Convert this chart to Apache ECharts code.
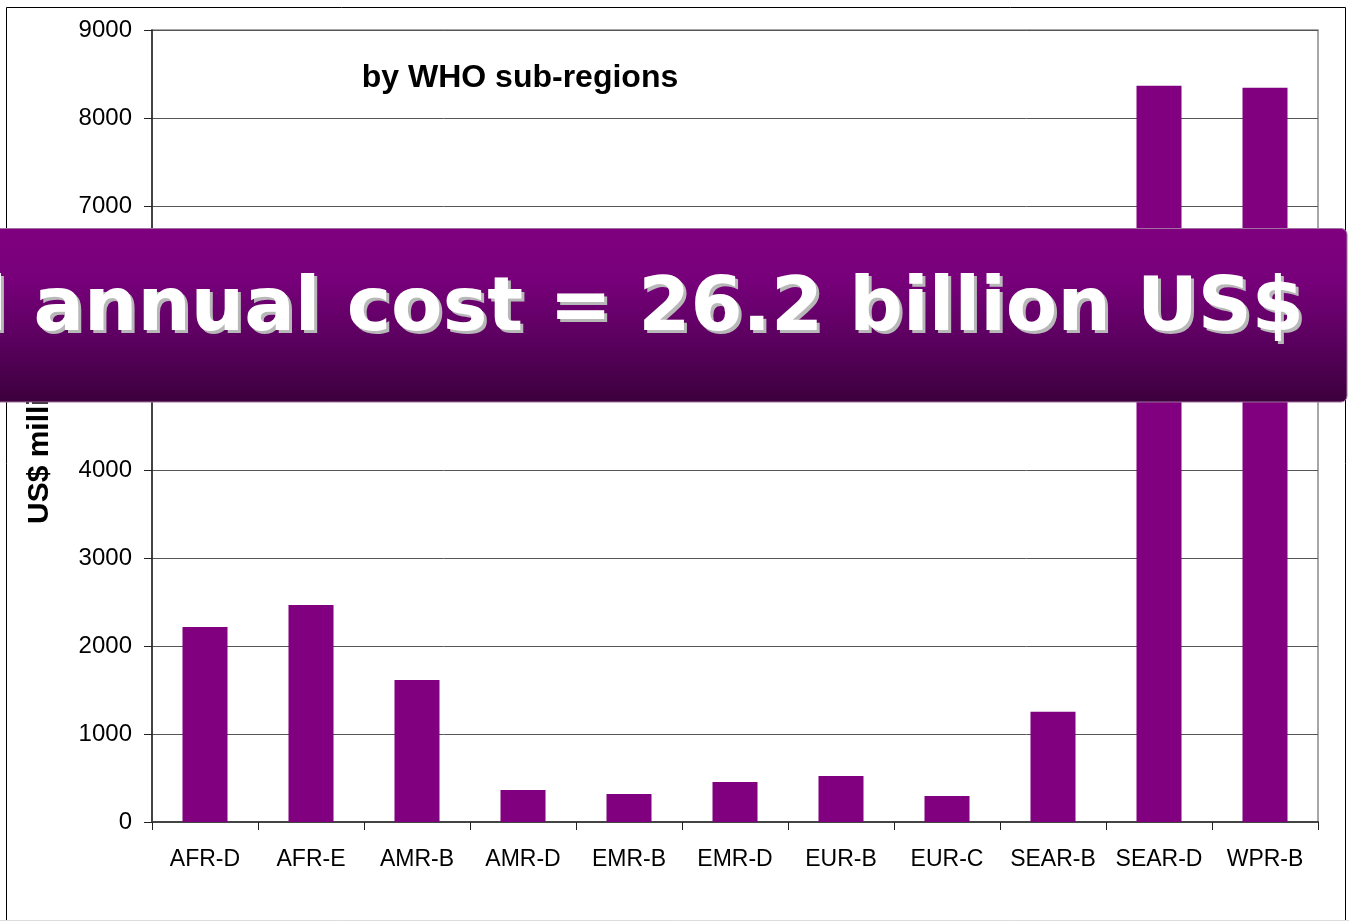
<!DOCTYPE html>
<html>
<head>
<meta charset="utf-8">
<script src="https://cdn.jsdelivr.net/npm/echarts@6/dist/echarts.min.js"></script>
<style>
html,body{margin:0;padding:0;background:#fff;}
#chart{width:1349px;height:921px;}
</style>
</head>
<body>
<div id="chart"></div>
<script>
var categories = ['AFR-D','AFR-E','AMR-B','AMR-D','EMR-B','EMR-D','EUR-B','EUR-C','SEAR-B','SEAR-D','WPR-B'];
var costs = [2216, 2466, 1614, 364, 318, 455, 523, 295, 1253, 8367, 8345];
var yTicks = {min: 0, max: 9000, interval: 1000};
var titleText = 'by WHO sub-regions';
var axisName = 'US$ millions';
var bannerText = 'Total annual cost = 26.2 billion US$';

var bannerFont = {fontFamily: 'DejaVu Sans', fontWeight: 'bold', fontSize: 75, textAlign: 'right', textVerticalAlign: 'middle'};
var chart = echarts.init(document.getElementById('chart'));
var option = {
  animation: false,
  backgroundColor: '#fff',
  title: {
    text: titleText,
    left: 515, top: 57, textAlign: 'center',
    textStyle: {fontFamily: 'Liberation Sans', fontWeight: 'bold', fontSize: 32, color: '#000'}
  },
  grid: {left: 152, right: 31, top: 30, bottom: 99, show: true, borderColor: '#8a8a8a', borderWidth: 1.5},
  xAxis: {
    type: 'category',
    data: categories,
    axisLine: {lineStyle: {color: '#444', width: 2}},
    axisTick: {show: true, interval: 0, length: 8, lineStyle: {color: '#222'}},
    axisLabel: {interval: 0, color: '#000', fontFamily: 'Liberation Sans', fontSize: 23, margin: 26}
  },
  yAxis: {
    type: 'value',
    min: yTicks.min, max: yTicks.max, interval: yTicks.interval,
    axisLine: {show: true, lineStyle: {color: '#222', width: 1.5}},
    axisTick: {show: true, length: 8, lineStyle: {color: '#222'}},
    axisLabel: {color: '#000', fontFamily: 'Liberation Sans', fontSize: 24, margin: 20,
      formatter: function (v) { return String(v); }},
    splitLine: {show: true, lineStyle: {color: '#555', width: 1}}
  },
  series: [{
    type: 'bar',
    data: costs,
    barWidth: 45,
    itemStyle: {color: '#800080'}
  }],
  graphic: [
    {type: 'polyline', z: 1, shape: {points: [[6.5, 920], [6.5, 7.5], [1345.5, 7.5], [1345.5, 920]]}, style: {stroke: '#000', lineWidth: 1, fill: null}},
    {type: 'line', z: 1, shape: {x1: 0, y1: 920.5, x2: 1349, y2: 920.5}, style: {stroke: '#ddd', lineWidth: 1}},
    {type: 'text', z: 5, x: 40, y: 434, rotation: Math.PI / 2,
      style: {text: axisName, fontFamily: 'Liberation Sans', fontWeight: 'bold', fontSize: 30, fill: '#000', textAlign: 'center', textVerticalAlign: 'middle'}},
    {type: 'rect', z: 20, shape: {x: -20, y: 228.5, width: 1367, height: 173.5, r: 6},
      style: {
        fill: {type: 'linear', x: 0, y: 0, x2: 0, y2: 1, colorStops: [
          {offset: 0, color: '#800080'}, {offset: 0.3, color: '#77007a'}, {offset: 0.7, color: '#56005a'}, {offset: 1, color: '#3c003c'}]},
        stroke: '#a070a0', lineWidth: 1
      }},
    {type: 'text', z: 21, x: 1307, y: 314,
      style: Object.assign({text: bannerText, fill: '#b8b8b8'}, bannerFont)},
    {type: 'text', z: 22, x: 1304, y: 311,
      style: Object.assign({text: bannerText, fill: '#fff'}, bannerFont)}
  ]
};
chart.setOption(option);
</script>
</body>
</html>
